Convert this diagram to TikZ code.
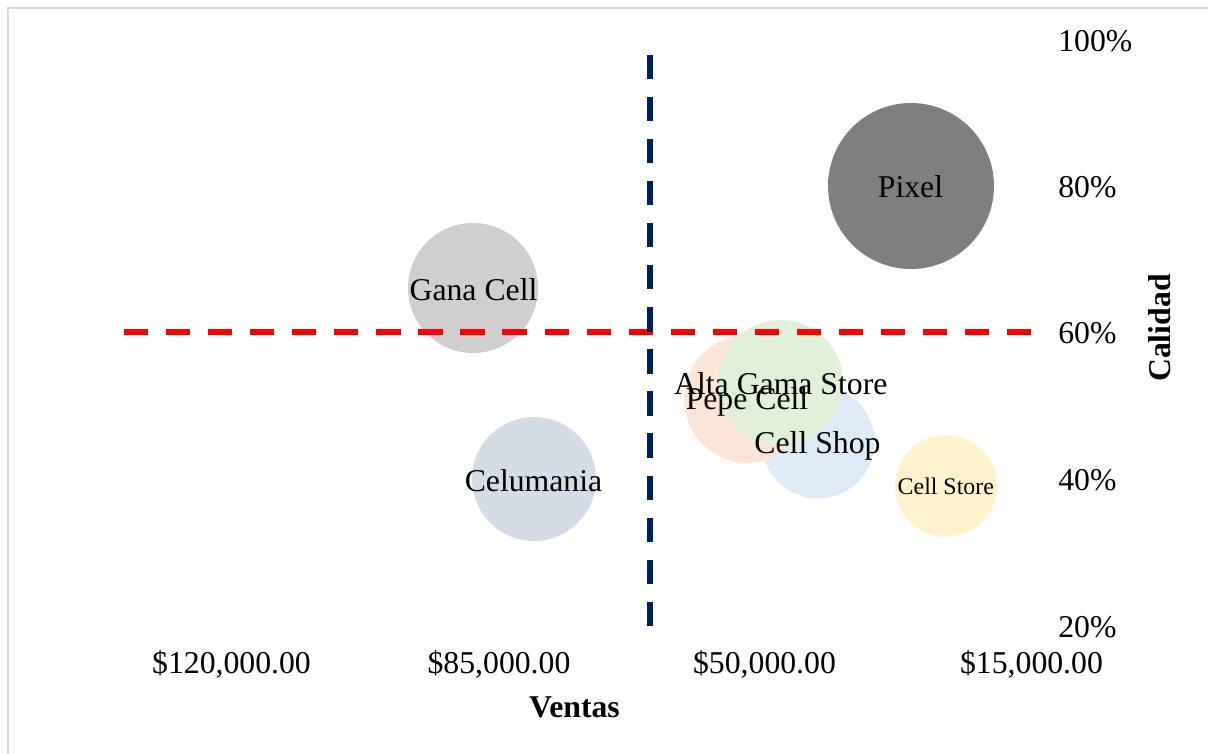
\documentclass[tikz,border=0pt]{standalone}
\usepackage{fontspec}
\setmainfont{Liberation Serif}
\definecolor{frame}{HTML}{D9D9D9}
\definecolor{navy}{HTML}{002060}
\definecolor{cpixel}{HTML}{7F7F7F}
\definecolor{cgana}{HTML}{D0CECE}
\definecolor{ccelu}{HTML}{D6DCE5}
\definecolor{cpepe}{HTML}{FBE5D6}
\definecolor{calta}{HTML}{E2F0D9}
\definecolor{cshop}{HTML}{DEEBF7}
\definecolor{cstore}{HTML}{FFF2CC}
\tikzset{
  bubble/.style={circle, draw=none, inner sep=0pt, minimum size=#1},
  lbl/.style={inner sep=0pt, anchor=base, font=\fontsize{23.8pt}{28pt}\selectfont},
  lblsmall/.style={inner sep=0pt, anchor=base, font=\fontsize{17.9pt}{21pt}\selectfont},
  ticklbl/.style={inner sep=0pt, anchor=base, font=\fontsize{23.8pt}{28pt}\selectfont},
  pctlbl/.style={inner sep=0pt, anchor=base west, font=\fontsize{23.8pt}{28pt}\selectfont},
  axtitle/.style={inner sep=0pt, font=\fontsize{23.8pt}{28pt}\selectfont\bfseries},
  quadline/.style={line width=4.6pt, dash pattern=on 18.15pt off 13.39pt}
}
\begin{document}
\begin{tikzpicture}[x=0.75pt, y=-0.75pt]
\useasboundingbox (0,0) rectangle (1208,754);
% frame
\coordinate (f1) at (8,754);
\coordinate (f2) at (8,8);
\coordinate (f3) at (1208,8);
\draw[frame, line width=1.5pt] (f1) -- (f2) -- (f3);
% bubbles
\node[bubble=124.5pt, fill=cpixel] (bpixel) at (911,186) {};
\node[bubble=97.5pt, fill=cgana] (bgana) at (473,288) {};
\node[bubble=93pt, fill=ccelu] (bcelu) at (534,479) {};
\node[bubble=84.75pt, fill=cshop] (bshop) at (818,442) {};
\node[bubble=96pt, fill=cpepe] (bpepe) at (748,399) {};
\node[bubble=93.75pt, fill=calta] (balta) at (780.5,382.5) {};
\node[bubble=76.5pt, fill=cstore] (bstore) at (946,486) {};
% quadrant lines
\coordinate (h1) at (124,332);
\coordinate (h2) at (1031,332);
\coordinate (v1) at (650,55);
\coordinate (v2) at (650,626);
\draw[quadline, red] (h1) -- (h2);
\draw[quadline, navy] (v1) -- (v2);
% bubble labels
\node[lbl] (tpixel) at (910.5,197) {Pixel};
\node[lbl] (tgana) at (473.5,300) {Gana Cell};
\node[lbl] (tcelu) at (533.5,491) {Celumania};
\node[lbl] (tpepe) at (747,409) {Pepe Cell};
\node[lbl] (talta) at (780.8,394) {Alta Gama Store};
\node[lbl] (tshop) at (817.5,453) {Cell Shop};
\node[lblsmall] (tstore) at (945.8,494) {Cell Store};
% x tick labels
\node[ticklbl] (x1) at (231.5,673) {\$120,000.00};
\node[ticklbl] (x2) at (499,673) {\$85,000.00};
\node[ticklbl] (x3) at (764.5,673) {\$50,000.00};
\node[ticklbl] (x4) at (1031.5,673) {\$15,000.00};
% y tick labels
\node[pctlbl] (y100) at (1058,51) {100\%};
\node[pctlbl] (y80) at (1058,197.5) {80\%};
\node[pctlbl] (y60) at (1058,343) {60\%};
\node[pctlbl] (y40) at (1058,490) {40\%};
\node[pctlbl] (y20) at (1058,637) {20\%};
% axis titles
\node[axtitle] (xtitle) at (574.5,707) {Ventas};
\node[axtitle, rotate=90] (ytitle) at (1160,328) {Calidad};
\end{tikzpicture}
\end{document}
